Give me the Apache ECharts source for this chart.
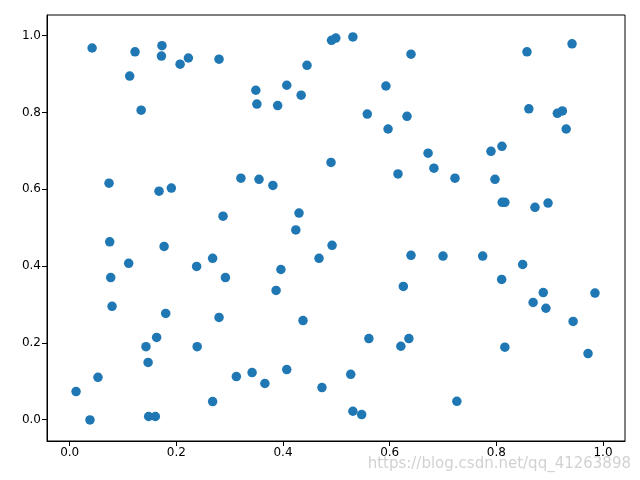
<!DOCTYPE html>
<html>
<head>
<meta charset="utf-8">
<script src="https://cdn.jsdelivr.net/npm/echarts@6/dist/echarts.min.js"></script>
<style>
  html, body { margin: 0; padding: 0; background: #fff; }
  #chart { width: 640px; height: 480px; }
</style>
</head>
<body>
<div id="chart"></div>
<script>
// scatter points
const xValues = [
  0.042, 0.1225, 0.173, 0.172, 0.207, 0.2225, 0.280, 0.1125, 0.134, 0.349,
  0.351, 0.390, 0.407, 0.434, 0.445, 0.491, 0.499, 0.0737, 0.1675, 0.1906,
  0.321, 0.355, 0.381, 0.490, 0.2875, 0.430, 0.424, 0.531, 0.640, 0.8575,
  0.942, 0.593, 0.558, 0.6325, 0.597, 0.861, 0.9144, 0.9238, 0.931, 0.672,
  0.683, 0.6156, 0.7225, 0.790, 0.8106, 0.7975, 0.811, 0.816, 0.8725, 0.897,
  0.075, 0.177, 0.492, 0.1106, 0.238, 0.268, 0.4675, 0.0769, 0.292, 0.396,
  0.387, 0.0794, 0.180, 0.280, 0.4375, 0.163, 0.143, 0.239, 0.147, 0.053,
  0.0119, 0.3125, 0.342, 0.366, 0.407, 0.473, 0.268, 0.038, 0.148, 0.1606,
  0.640, 0.700, 0.7744, 0.8494, 0.810, 0.6256, 0.888, 0.869, 0.893, 0.985,
  0.944, 0.561, 0.636, 0.621, 0.816, 0.972, 0.527, 0.726, 0.531, 0.5475
];
const yValues = [
  0.968, 0.958, 0.974, 0.947, 0.926, 0.942, 0.939, 0.895, 0.806, 0.858,
  0.822, 0.818, 0.871, 0.845, 0.923, 0.988, 0.994, 0.616, 0.595, 0.603,
  0.629, 0.626, 0.610, 0.670, 0.530, 0.538, 0.494, 0.997, 0.952, 0.958,
  0.979, 0.869, 0.796, 0.790, 0.757, 0.8095, 0.798, 0.804, 0.757, 0.694,
  0.655, 0.640, 0.629, 0.699, 0.712, 0.626, 0.566, 0.566, 0.553, 0.564,
  0.463, 0.451, 0.454, 0.407, 0.399, 0.420, 0.420, 0.370, 0.370, 0.391,
  0.3365, 0.295, 0.2765, 0.266, 0.258, 0.214, 0.190, 0.190, 0.149, 0.110,
  0.073, 0.112, 0.1226, 0.094, 0.1304, 0.0835, 0.047, -0.001, 0.008, 0.008,
  0.428, 0.426, 0.426, 0.404, 0.365, 0.347, 0.331, 0.305, 0.290, 0.3295,
  0.2557, 0.211, 0.211, 0.191, 0.1886, 0.172, 0.118, 0.0477, 0.0217, 0.013
];
const xTicks = [0.0, 0.2, 0.4, 0.6, 0.8, 1.0];
const yTicks = [0.0, 0.2, 0.4, 0.6, 0.8, 1.0];

const points = xValues.map((x, i) => [x, yValues[i]]);

const chart = echarts.init(document.getElementById("chart"), null, { renderer: "canvas" });

const axisCommon = {
  type: "value",
  splitLine: { show: false },
  axisLine: { show: true, onZero: false, lineStyle: { color: "#000", width: 1 } },
  axisTick: { show: true, length: 5, lineStyle: { color: "#000", width: 1 } },
  axisLabel: {
    color: "#000",
    fontFamily: "DejaVu Sans",
    fontSize: 12,
    margin: 6,
    formatter: (v) => v.toFixed(1),
  },
};

chart.setOption({
  animation: false,
  backgroundColor: "#fff",
  grid: {
    left: 47,
    right: 15,
    top: 15,
    bottom: 39,
    show: true,
    borderColor: "#000",
    borderWidth: 1,
  },
  xAxis: {
    ...axisCommon,
    min: -0.0426,
    max: 1.0413,
    axisTick: { ...axisCommon.axisTick, customValues: xTicks },
    axisLabel: { ...axisCommon.axisLabel, customValues: xTicks },
  },
  yAxis: {
    ...axisCommon,
    min: -0.0558,
    max: 1.054,
    axisTick: { ...axisCommon.axisTick, customValues: yTicks },
    axisLabel: { ...axisCommon.axisLabel, customValues: yTicks },
  },
  series: [
    {
      type: "scatter",
      data: points,
      symbolSize: 9.5,
      itemStyle: { color: "#1f77b4", opacity: 1 },
    },
  ],
  graphic: [
    {
      type: "text",
      right: 9,
      bottom: 8,
      style: {
        text: "https://blog.csdn.net/qq_41263898",
        fontFamily: "DejaVu Sans",
        fontSize: 15,
        fill: "rgba(190,190,190,0.7)",
      },
    },
  ],
});
</script>
</body>
</html>
